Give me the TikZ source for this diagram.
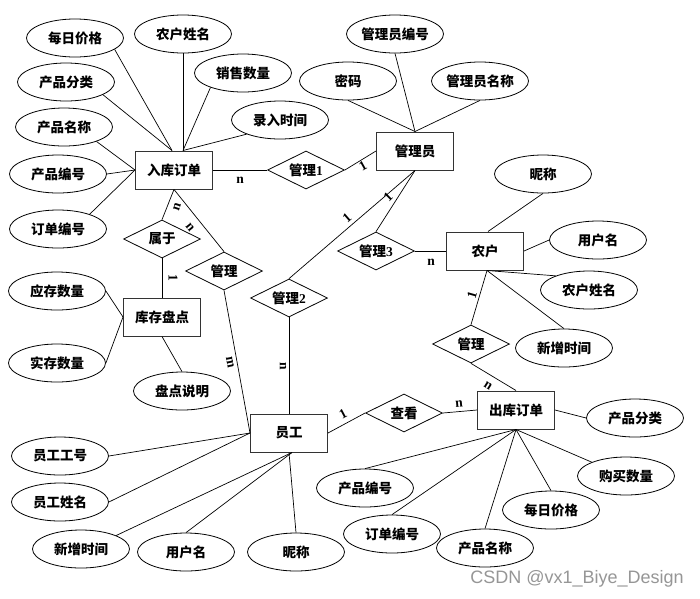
\documentclass[tikz,border=0pt]{standalone}
\usepackage{fontspec}
\setmainfont{Noto Sans CJK SC}
\newfontfamily\lat{Liberation Serif}
\newfontfamily\wmfont{Liberation Sans}
\usetikzlibrary{shapes.geometric}
\tikzset{
  base/.style={draw=black, line width=0.8pt, inner sep=0pt, font=\bfseries\fontsize{13.5}{14}\selectfont},
  attr/.style={base, ellipse, minimum width=97pt, minimum height=38pt},
  ent/.style={base, rectangle, draw={black!80}, line width=1pt, minimum width=77pt, minimum height=38pt},
  rel/.style={base, diamond, aspect=2, minimum width=77pt, minimum height=38pt},
  card/.style={inner sep=0pt, font=\lat\bfseries\fontsize{13.5}{13.5}\selectfont},
  conn/.style={line width=0.7pt}
}
\begin{document}
\begin{tikzpicture}[x=1pt,y=-1pt]
\fill[white] (0,0) rectangle (700,598);
\useasboundingbox (0,0) rectangle (700,598);
% entities
\node[ent] (rk) at (174,170) {入库订单};
\node[ent] (gly) at (415,151) {管理员};
\node[ent] (nh) at (485,251) {农户};
\node[ent] (ck) at (516,410) {出库订单};
\node[ent] (yg) at (289,433) {员工};
\node[ent] (kc) at (162,317) {库存盘点};
% relations
\node[rel] (gl1) at (306,170) {管理{\lat 1}};
\node[rel] (sy) at (162,239) {属于};
\node[rel] (gll) at (224,271) {管理};
\node[rel] (gl2) at (289,298) {管理{\lat 2}};
\node[rel] (gl3) at (376,251) {管理{\lat 3}};
\node[rel] (glr) at (471,344) {管理};
\node[rel] (chk) at (404,413) {查看};
% attributes
\node[attr] (mrjg) at (75,38) {每日价格};
\node[attr] (nhxm) at (183,34) {农户姓名};
\node[attr] (cpfl) at (66,82) {产品分类};
\node[attr] (xssl) at (243,73) {销售数量};
\node[attr] (cpmc) at (64,127) {产品名称};
\node[attr] (lrsj) at (280,120) {录入时间};
\node[attr] (cpbh) at (58,174) {产品编号};
\node[attr] (ddbh) at (58,229) {订单编号};
\node[attr] (glybh) at (395,34) {管理员编号};
\node[attr] (mm) at (348,81) {密码};
\node[attr] (glymc) at (480,81) {管理员名称};
\node[attr] (nca) at (543,174) {昵称};
\node[attr] (yhma) at (598,240) {用户名};
\node[attr] (nhxmb) at (589,290) {农户姓名};
\node[attr] (xzsjb) at (564,348) {新增时间};
\node[attr] (cpflb) at (635,418) {产品分类};
\node[attr] (gmsl) at (626,476) {购买数量};
\node[attr] (cpbhb) at (365,488) {产品编号};
\node[attr] (mrjgb) at (551,510) {每日价格};
\node[attr] (ddbhb) at (392,534) {订单编号};
\node[attr] (cpmcb) at (485,548) {产品名称};
\node[attr] (ycsl) at (57,291) {应存数量};
\node[attr] (scsl) at (57,363) {实存数量};
\node[attr] (pdsm) at (182,391) {盘点说明};
\node[attr] (yggh) at (60,456) {员工工号};
\node[attr] (ygxm) at (60,502) {员工姓名};
\node[attr] (xzsj) at (81,549) {新增时间};
\node[attr] (yhm) at (186,552) {用户名};
\node[attr] (nc) at (296,552) {昵称};
% connectors: 入库订单
\draw[conn] (mrjg.-16) -- ([xshift=-2pt]rk.north);
\draw[conn] (cpfl.-19) -- ([xshift=-2pt]rk.north);
\draw[conn] (nhxm.south) -- ([xshift=9pt]rk.north);
\draw[conn] (xssl.-156) -- ([xshift=9pt]rk.north);
\draw[conn] (lrsj.-157) -- ([xshift=9pt]rk.north);
\draw[conn] (cpmc.-24) -- (rk.west);
\draw[conn] (cpbh.east) -- (rk.west);
\draw[conn] (ddbh.25) -- (rk.west);
\draw[conn] (rk.east) -- (gl1.west);
\draw[conn] (gl1.east) -- (gly.west);
\draw[conn] (sy.north) -- (rk.south);
\draw[conn] (rk.south) -- (gll.north);
% 管理员
\draw[conn] (glybh.south) -- (gly.north);
\draw[conn] (mm.south) -- (gly.north);
\draw[conn] (glymc.south) -- (gly.north);
\draw[conn] (gly.south) -- (gl2.north);
\draw[conn] (gly.south) -- (gl3.north);
\draw[conn] (gl3.east) -- (nh.west);
% 农户
\draw[conn] (nca.south) -- ([xshift=3pt]nh.north);
\draw[conn] (yhma.west) -- (nh.east);
\draw[conn] (nhxmb.157) -- ([xshift=2pt]nh.south);
\draw[conn] (xzsjb.north) -- ([xshift=2pt]nh.south);
\draw[conn] (glr.north) -- ([xshift=2pt]nh.south);
\draw[conn] (glr.south) -- (ck.north);
% 出库订单
\draw[conn] (cpflb.west) -- (ck.east);
\draw[conn] (cpbhb.north) -- (ck.south);
\draw[conn] (ddbhb.north) -- (ck.south);
\draw[conn] (cpmcb.north) -- (ck.south);
\draw[conn] (mrjgb.north) -- (ck.south);
\draw[conn] (gmsl.158) -- (ck.south);
\draw[conn] (chk.east) -- (ck.west);
% 员工
\draw[conn] (yg.east) -- (chk.west);
\draw[conn] (gl2.south) -- (yg.north);
\draw[conn] (gll.south) -- (yg.west);
\draw[conn] (yggh.east) -- (yg.west);
\draw[conn] (ygxm.east) -- (yg.west);
\draw[conn] (xzsj.21) -- ([xshift=3pt]yg.south);
\draw[conn] (yhm.north) -- ([xshift=3pt]yg.south);
\draw[conn] (nc.north) -- (yg.south);
% 库存盘点
\draw[conn] (sy.south) -- (kc.north);
\draw[conn] (ycsl.east) -- (kc.west);
\draw[conn] (scsl.east) -- (kc.west);
\draw[conn] (pdsm.north) -- (kc.south);
% cardinalities
\node[card] (k1) at (240,180) {n};
\node[card, rotate=29] (k2) at (363,166) {1};
\node[card, rotate=72] (k3) at (177,207) {n};
\node[card, rotate=-51] (k4) at (190,227) {n};
\node[card, rotate=-90] (k5) at (173,278) {1};
\node[card, rotate=-79] (k6) at (230,362) {m};
\node[card, rotate=-90] (k7) at (283,366) {n};
\node[card, rotate=41] (k8) at (347,218) {1};
\node[card, rotate=45] (k9) at (388,197) {1};
\node[card] (k10) at (431,262) {n};
\node[card, rotate=74] (k11) at (472,295) {1};
\node[card, rotate=-32] (k12) at (488,386) {n};
\node[card, rotate=28] (k13) at (343,414) {1};
\node[card, rotate=5] (k14) at (459,404) {n};
% watermark
\node[inner sep=0pt, text={rgb,255:red,150;green,150;blue,150}, font=\wmfont\fontsize{18}{18}\selectfont] (wm) at (577,579) {CSDN @vx1\_Biye\_Design};
\end{tikzpicture}
\end{document}
